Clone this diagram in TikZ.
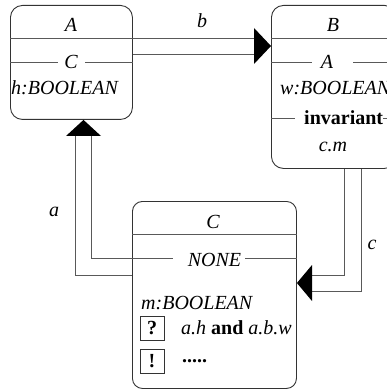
\documentclass[tikz,border=0pt]{standalone}
\usepackage{fontspec}
\setmainfont{Liberation Serif}
\usetikzlibrary{calc}
\begin{document}
\begin{tikzpicture}[x=1pt,y=-1pt,
  cls/.style={draw=black!80, line width=0.9pt, rounded corners=12pt, inner sep=0pt, anchor=north west},
  con/.style={draw=black!65, line width=0.9pt},
  sep/.style={draw=black!65, line width=0.9pt},
  head/.style={fill=black},
  it/.style={inner sep=0pt, font=\fontsize{20}{22}\selectfont\itshape},
  bf/.style={inner sep=0pt, font=\fontsize{20}{22}\selectfont\bfseries},
  tag/.style={draw=black!80, line width=0.9pt, minimum size=24pt, inner sep=0pt, font=\fontsize{20}{22}\selectfont\bfseries}
]
\useasboundingbox (0,0) rectangle (387,390);
\clip (0,0) rectangle (387,390);

% classes
\node[cls, minimum width=122pt, minimum height=114pt] (A) at (10,5) {};
\node[cls, minimum width=125pt, minimum height=163pt] (B) at (271,5) {};
\node[cls, rounded corners=10pt, minimum width=164pt, minimum height=187pt] (C) at (132,201) {};

% class A content
\node[it] (Aname) at (71,25) {A};
\draw[sep] (A.west |- 0,38) -- (A.east |- 0,38);
\node[it] (Ainh) at (71,62) {C};
\draw[sep] (A.west |- 0,62) -- (58,62);
\draw[sep] (85,62) -- (A.east |- 0,62);
\node[it, anchor=west] (Afeat) at (11,88) {h:BOOLEAN};

% class B content
\node[it] (Bname) at (333,25) {B};
\draw[sep] (B.west |- 0,38) -- (B.east |- 0,38);
\node[it] (Binh) at (327,62) {A};
\draw[sep] (B.west |- 0,62) -- (312,62);
\draw[sep] (353,62) -- (B.east |- 0,62);
\node[it, anchor=west] (Bfeat) at (280,88) {w:BOOLEAN};
\node[bf, anchor=west] (Binv) at (304,118) {invariant};
\draw[sep] (B.west |- 0,118) -- (295,118);
\draw[sep] (383,118) -- (B.east |- 0,118);
\node[it] (Binvx) at (333,147) {c.m};

% class C content
\node[it] (Cname) at (213,222) {C};
\draw[sep] (C.west |- 0,234) -- (C.east |- 0,234);
\node[it] (Cinh) at (214.5,260) {NONE};
\draw[sep] (C.west |- 0,258) -- (173,258);
\draw[sep] (245,258) -- (C.east |- 0,258);
\node[it, anchor=west] (Cfeat) at (141,303) {m:BOOLEAN};
\node[tag] (pre) at (152,328) {?};
\node[inner sep=0pt, anchor=west, font=\fontsize{20}{22}\selectfont] (prex) at (181,328) {\textit{a.h} \textbf{and} \textit{a.b.w}};
\node[tag] (post) at (152,361) {!};
\node[bf, anchor=west] (postx) at (182,361) {.....};

% connector b : A -> B
\coordinate (bend) at (254,38);
\coordinate (bend2) at (254,54);
\draw[con] (A.east |- bend) -- (bend);
\draw[con] (A.east |- bend2) -- (bend2);
\fill[head] (B.west |- 0,46) -- (254,28) -- (254,64) -- cycle;
\node[it] (lb) at (202,21) {b};

% connector c : B -> C
\coordinate (c1) at (344,275);
\coordinate (c2) at (361,291);
\draw[con] (B.south -| c1) -- (c1) -- (312,275);
\draw[con] (B.south -| c2) -- (c2) -- (312,291);
\fill[head] (C.east |- 0,283) -- (312,265) -- (312,301) -- cycle;
\node[it] (lc) at (372,245) {c};

% connector a : C -> A
\coordinate (a1) at (91,258);
\coordinate (a2) at (75,275);
\draw[con] (C.west |- a1) -- (a1) -- (91,136);
\draw[con] (C.west |- a2) -- (a2) -- (75,136);
\fill[head] (A.south -| 83.5,0) -- (66,136) -- (101,136) -- cycle;
\node[it] (la) at (54,212) {a};
\end{tikzpicture}
\end{document}
